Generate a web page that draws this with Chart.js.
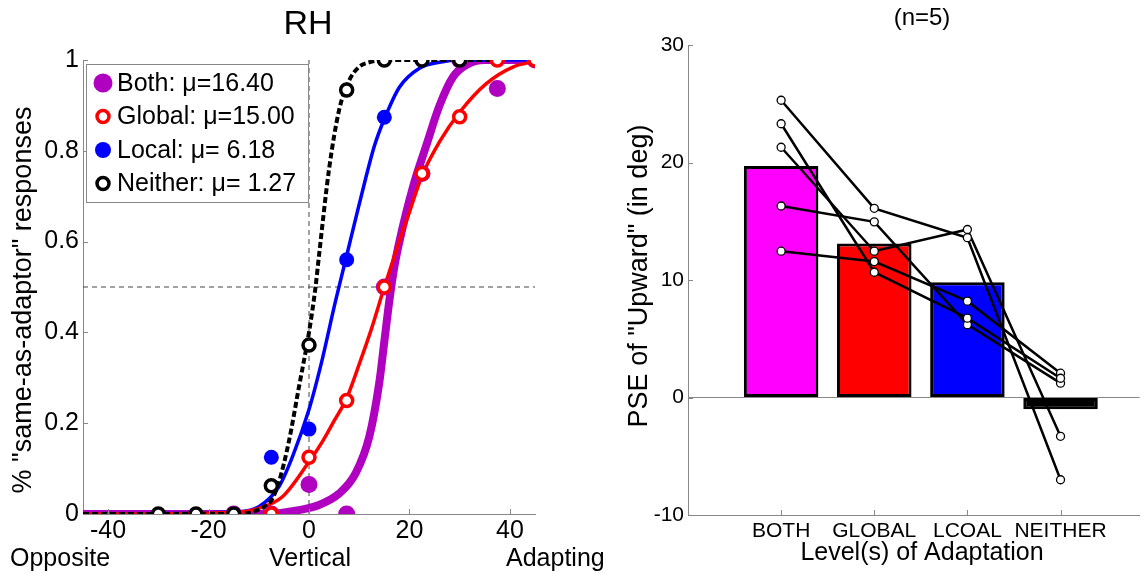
<!DOCTYPE html>
<html>
<head>
<meta charset="utf-8">
<script src="https://cdn.jsdelivr.net/npm/chart.js@4.4.0/dist/chart.umd.min.js"></script>
<style>
  html, body { margin: 0; padding: 0; background: #fff; }
  #wrap { position: relative; width: 1145px; height: 573px; overflow: hidden; }
  #leftChart { position: absolute; left: 0; top: 0; }
  #rightChart { position: absolute; left: 600px; top: 0; }
</style>
</head>
<body>
<div id="wrap">
  <canvas id="leftChart" width="620" height="573"></canvas>
  <canvas id="rightChart" width="545" height="573"></canvas>
</div>
<script>
// ---- left panel: psychometric data (RH) ----
const conditions = ['Both', 'Global', 'Local', 'Neither'];
const muLabels = ['16.40', '15.00', ' 6.18', ' 1.27'];
const xTicksLeft = [-40, -20, 0, 20, 40];
const yTicksLeft = [0, 0.2, 0.4, 0.6, 0.8, 1];

const bothX = [-15, -7.5, 0, 7.5, 15, 22.5, 30, 37.5, 45];
const bothY = [0, 0, 0.065, 0, 0.5, 0.75, 1, 0.937, 1];
const globalX = [-7.5, 0, 7.5, 15, 22.5, 30, 37.5, 45];
const globalY = [0, 0.125, 0.25, 0.5, 0.75, 0.875, 1, 1];
const localX = [-7.5, 0, 7.5, 15];
const localY = [0.125, 0.187, 0.56, 0.874];
const neitherX = [-30, -22.5, -15, -7.5, 0, 7.5, 15, 22.5, 30];
const neitherY = [0, 0, 0, 0.062, 0.372, 0.934, 1, 1, 1];

// fitted curves, values
const bothFitX = [-45, -8, -4, 2, 6, 9.3, 12, 14, 15, 16, 17, 18, 20.7, 23.3, 26, 28.7, 31.3, 35, 45];
const bothFitY = [0, 0, 0.005, 0.02, 0.045, 0.09, 0.17, 0.29, 0.38, 0.47, 0.545, 0.6, 0.72, 0.81, 0.9, 0.963, 0.989, 1, 1];
const globalFitX = [-45, -14, -10, -5.3, 0, 2.7, 5, 7.5, 10, 12.5, 15, 17.5, 20, 22.5, 26, 30, 35.3, 40.7, 45];
const globalFitY = [0, 0.004, 0.0125, 0.038, 0.115, 0.16, 0.205, 0.255, 0.33, 0.41, 0.5, 0.585, 0.665, 0.745, 0.82, 0.885, 0.948, 0.985, 0.997];
const localFitX = [-45, -14, -10, -6, -3.3, 0, 2.3, 5.3, 7.3, 9.5, 11.3, 13, 15, 18, 22, 26, 30, 45];
const localFitY = [0, 0.005, 0.016, 0.06, 0.126, 0.23, 0.325, 0.47, 0.56, 0.66, 0.74, 0.81, 0.87, 0.94, 0.982, 0.995, 1, 1];
const neitherFitX = [-45, -14, -10, -7.5, -6, -4, -2, 0, 1.3, 2, 4, 6, 8, 10, 12, 15, 37.5];
const neitherFitY = [0, 0, 0.01, 0.03, 0.07, 0.16, 0.28, 0.4, 0.5, 0.57, 0.76, 0.89, 0.955, 0.985, 0.995, 1, 1];

// ---- right panel: PSE per adaptation level ----
const levels = ['BOTH', 'GLOBAL', 'LCOAL', 'NEITHER'];
const levelPos = [1, 2, 3, 4];
const meanPSE = [19.7, 13.1, 9.8, -1.0];
const barColors = ['#ff00ff', '#ff0000', '#0000ff', '#000000'];
const yTicksRight = [-10, 0, 10, 20, 30];
const subj1 = [25.3, 16.1, 13.6, -7.0];
const subj2 = [23.3, 10.66, 6.75, 1.64];
const subj3 = [21.3, 12.45, 14.3, -3.3];
const subj4 = [16.3, 14.95, 6.2, 1.22];
const subj5 = [12.45, 11.57, 8.2, 2.07];

const FONT = "'Liberation Sans', Arial, Helvetica, sans-serif";
Chart.defaults.font.family = FONT;
Chart.defaults.color = '#000';

function pts(xs, ys) {
    return xs.map((x, i) => ({ x: x, y: ys[i] }));
}

// small inward tick marks, MATLAB style
const inwardTicks = {
    id: 'inwardTicks',
    afterDraw(chart) {
        const { ctx, chartArea, scales } = chart;
        ctx.save();
        ctx.strokeStyle = '#888';
        ctx.lineWidth = 1;
        ctx.beginPath();
        scales.x.ticks.forEach(t => {
            const px = Math.round(scales.x.getPixelForValue(t.value)) + 0.5;
            ctx.moveTo(px, chartArea.bottom);
            ctx.lineTo(px, chartArea.bottom - 5);
        });
        scales.y.ticks.forEach(t => {
            const py = Math.round(scales.y.getPixelForValue(t.value)) + 0.5;
            ctx.moveTo(chartArea.left, py);
            ctx.lineTo(chartArea.left + 5, py);
        });
        ctx.stroke();
        ctx.restore();
    }
};

// free text (titles, axis names)
const overlayText = {
    id: 'overlayText',
    afterDraw(chart, args, opts) {
        const ctx = chart.ctx;
        (opts.items || []).forEach(t => {
            ctx.save();
            ctx.font = t.font;
            ctx.fillStyle = '#000';
            ctx.textAlign = t.align || 'center';
            ctx.textBaseline = t.baseline || 'middle';
            ctx.translate(t.x, t.y);
            if (t.rot) ctx.rotate(t.rot);
            ctx.fillText(t.text, 0, 0);
            ctx.restore();
        });
    }
};

// boxed legend like the matlab one
const boxLegend = {
    id: 'boxLegend',
    afterDraw(chart) {
        const ctx = chart.ctx;
        ctx.save();
        ctx.fillStyle = '#fff';
        ctx.fillRect(86, 64, 222, 138);
        ctx.strokeStyle = '#888';
        ctx.lineWidth = 1;
        ctx.strokeRect(86.5, 64.5, 222, 138);
        conditions.forEach((name, i) => {
            const ds = chart.data.datasets.find(d => d.label === name);
            const cy = 83 + i * 33.5;
            ctx.beginPath();
            ctx.arc(103, cy, ds.legendRadius, 0, Math.PI * 2);
            ctx.fillStyle = ds.pointBackgroundColor;
            ctx.fill();
            if (ds.pointBorderWidth) {
                ctx.lineWidth = ds.pointBorderWidth;
                ctx.strokeStyle = ds.pointBorderColor;
                ctx.stroke();
            }
            ctx.fillStyle = '#000';
            ctx.font = '25px ' + FONT;
            ctx.textAlign = 'left';
            ctx.textBaseline = 'middle';
            ctx.fillText(name + ': \u03bc=' + muLabels[i], 117, cy + 1);
        });
        ctx.restore();
    }
};

// --- Left chart ---
new Chart(document.getElementById('leftChart'), {
    type: 'scatter',
    data: {
        datasets: [
            // reference lines
            { data: pts([0, 0], [0, 1]), showLine: true, pointRadius: 0, borderColor: '#444', borderWidth: 1, borderDash: [5, 4], order: 20 },
            { data: pts([-45, 45], [0.5, 0.5]), showLine: true, pointRadius: 0, borderColor: '#444', borderWidth: 1, borderDash: [5, 4], order: 20 },
            // fits
            { data: pts(bothFitX, bothFitY), showLine: true, pointRadius: 0, borderColor: '#b000c0', borderWidth: 8, cubicInterpolationMode: 'monotone', order: 14 },
            { data: pts(localFitX, localFitY), showLine: true, pointRadius: 0, borderColor: '#0000ff', borderWidth: 3.5, cubicInterpolationMode: 'monotone', order: 13 },
            { data: pts(globalFitX, globalFitY), showLine: true, pointRadius: 0, borderColor: '#ff0000', borderWidth: 3.5, cubicInterpolationMode: 'monotone', order: 12 },
            { data: pts(neitherFitX, neitherFitY), showLine: true, pointRadius: 0, borderColor: '#000000', borderWidth: 4, borderDash: [6, 3], cubicInterpolationMode: 'monotone', order: 11 },
            // data points
            { label: 'Both', data: pts(bothX, bothY), pointRadius: 8.5, legendRadius: 9.5, pointBackgroundColor: '#b000c0', pointBorderWidth: 0, order: 6 },
            { label: 'Local', data: pts(localX, localY), pointRadius: 7.5, legendRadius: 8, pointBackgroundColor: '#0000ff', pointBorderWidth: 0, order: 5 },
            { label: 'Global', data: pts(globalX, globalY), pointRadius: 6, legendRadius: 6, pointBackgroundColor: '#ffffff', pointBorderColor: '#ff0000', pointBorderWidth: 3.5, order: 4 },
            { label: 'Neither', data: pts(neitherX, neitherY), pointRadius: 6, legendRadius: 6, pointBackgroundColor: '#ffffff', pointBorderColor: '#000000', pointBorderWidth: 3.5, order: 3 }
        ]
    },
    options: {
        responsive: false,
        animation: false,
        devicePixelRatio: 1,
        layout: { padding: { top: 60, right: 85, left: 0, bottom: 0 } },
        scales: {
            x: {
                type: 'linear', min: -45, max: 45,
                afterBuildTicks: s => { s.ticks = xTicksLeft.map(v => ({ value: v })); },
                afterFit: s => { s.height = 59; },
                grid: { display: false, drawTicks: false },
                border: { color: '#888' },
                ticks: { font: { size: 25 }, color: '#000', padding: 2, maxRotation: 0 }
            },
            y: {
                min: 0, max: 1,
                afterBuildTicks: s => { s.ticks = yTicksLeft.map(v => ({ value: v })); },
                afterFit: s => { s.width = 83; },
                grid: { display: false, drawTicks: false },
                border: { color: '#888' },
                ticks: { font: { size: 25 }, color: '#000', padding: 4, callback: v => String(v) }
            }
        },
        plugins: {
            legend: { display: false },
            tooltip: { enabled: false },
            overlayText: {
                items: [
                    { text: 'RH', x: 308, y: 25, font: '34px ' + FONT },
                    { text: '% "same-as-adaptor" responses', x: 24, y: 300, rot: -Math.PI / 2, font: '27px ' + FONT },
                    { text: 'Opposite', x: 10, y: 566, align: 'left', baseline: 'alphabetic', font: '25px ' + FONT },
                    { text: 'Vertical', x: 310, y: 566, baseline: 'alphabetic', font: '25px ' + FONT },
                    { text: 'Adapting', x: 506, y: 566, align: 'left', baseline: 'alphabetic', font: '25px ' + FONT }
                ]
            }
        }
    },
    plugins: [inwardTicks, overlayText, boxLegend]
});

// --- Right chart ---
const subjects = [subj1, subj2, subj3, subj4, subj5];
new Chart(document.getElementById('rightChart'), {
    type: 'bar',
    data: {
        datasets: [
            {
                type: 'bar',
                data: pts(levelPos, meanPSE),
                backgroundColor: barColors,
                borderColor: '#000',
                borderWidth: 3,
                borderSkipped: false,
                barPercentage: 0.8,
                categoryPercentage: 1,
                order: 2
            },
            ...subjects.map(s => ({
                type: 'line',
                data: pts(levelPos, s),
                borderColor: '#000',
                borderWidth: 2.5,
                pointRadius: 4,
                pointBackgroundColor: '#fff',
                pointBorderColor: '#000',
                pointBorderWidth: 1.3,
                tension: 0,
                order: 1
            }))
        ]
    },
    options: {
        responsive: false,
        animation: false,
        devicePixelRatio: 1,
        layout: { padding: { top: 45, right: 1, left: 0, bottom: 0 } },
        scales: {
            x: {
                type: 'linear', min: 0, max: 4.85, offset: false,
                afterBuildTicks: s => { s.ticks = levelPos.map(v => ({ value: v })); },
                afterFit: s => { s.height = 58; },
                grid: { display: false, drawTicks: false, offset: false },
                border: { color: '#888' },
                ticks: { font: { size: 21 }, color: '#000', padding: 4, maxRotation: 0, callback: (v, i) => levels[i] }
            },
            y: {
                min: -10, max: 30,
                afterBuildTicks: s => { s.ticks = yTicksRight.map(v => ({ value: v })); },
                afterFit: s => { s.width = 88; },
                grid: {
                    drawTicks: false,
                    color: c => (c.tick && c.tick.value === 0) ? '#888' : 'rgba(0,0,0,0)'
                },
                border: { color: '#888' },
                ticks: { font: { size: 21 }, color: '#000', padding: 4 }
            }
        },
        plugins: {
            legend: { display: false },
            tooltip: { enabled: false },
            overlayText: {
                items: [
                    { text: '(n=5)', x: 322, y: 18, font: '24px ' + FONT },
                    { text: 'PSE of "Upward" (in deg)', x: 40, y: 276, rot: -Math.PI / 2, font: '27px ' + FONT },
                    { text: 'Level(s) of Adaptation', x: 322, y: 560, baseline: 'alphabetic', font: '25px ' + FONT }
                ]
            }
        }
    },
    plugins: [inwardTicks, overlayText]
});
</script>
</body>
</html>
